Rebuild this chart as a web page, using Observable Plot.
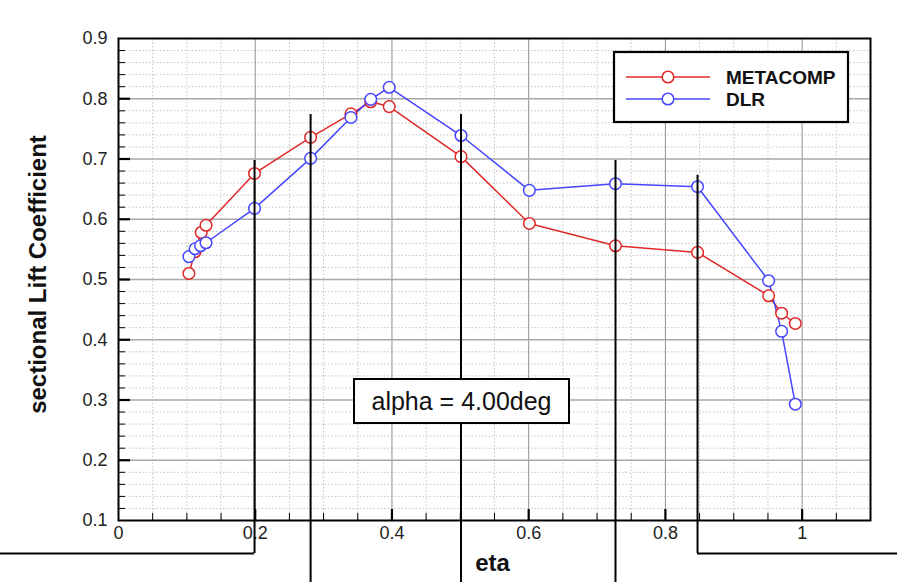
<!DOCTYPE html>
<html><head><meta charset="utf-8">
<script src="https://cdn.jsdelivr.net/npm/d3@7"></script>
<script src="https://cdn.jsdelivr.net/npm/@observablehq/plot@0.6"></script>
<style>body{margin:0;background:#fff}#chart svg{display:block}</style>
</head><body><div id="chart"></div>
<script>
// ---- data ----
const seriesNames = ["METACOMP", "DLR"];
const seriesColors = ["#e02828", "#4646ff"];
const etaMeta = [0.103, 0.112, 0.121, 0.128, 0.199, 0.281, 0.340, 0.369, 0.396, 0.501, 0.601, 0.727, 0.847, 0.951, 0.970, 0.990];
const clMeta  = [0.510, 0.546, 0.578, 0.590, 0.676, 0.736, 0.775, 0.795, 0.787, 0.704, 0.593, 0.556, 0.545, 0.473, 0.444, 0.427];
const etaDlr  = [0.103, 0.112, 0.120, 0.128, 0.199, 0.281, 0.340, 0.369, 0.396, 0.501, 0.601, 0.727, 0.847, 0.951, 0.970, 0.990];
const clDlr   = [0.538, 0.551, 0.556, 0.561, 0.618, 0.701, 0.769, 0.799, 0.819, 0.739, 0.648, 0.659, 0.654, 0.498, 0.414, 0.293];
const xTickLabels = [0, 0.2, 0.4, 0.6, 0.8, 1];
const yTickLabels = [0.1, 0.2, 0.3, 0.4, 0.5, 0.6, 0.7, 0.8, 0.9];
const annotation = "alpha = 4.00deg";
const xTitle = "eta";
const yTitle = "sectional Lift Coefficient";
// overlapping frame lines seen in the picture, at station positions
const stationEta = [0.199, 0.281, 0.501, 0.727, 0.847];
const stationTop = [0.6975, 0.774, 0.774, 0.6975, 0.673];
const stationBottom = [0.0452, -0.003, -0.003, -0.003, 0.0452];
const frameLineY = [0.0452, 0.0452];
const frameLineX1 = [-0.18, 0.847];
const frameLineX2 = [0.199, 1.16];

const rows = [];
etaMeta.forEach((e, i) => rows.push({series: seriesNames[0], eta: e, cl: clMeta[i]}));
etaDlr.forEach((e, i) => rows.push({series: seriesNames[1], eta: e, cl: clDlr[i]}));
const stations = stationEta.map((e, i) => ({eta: e, top: stationTop[i], bottom: stationBottom[i]}));
const hlines = frameLineY.map((y, i) => ({y, x1: frameLineX1[i], x2: frameLineX2[i]}));

const xMajorGrid = [0.2, 0.4, 0.6, 0.8, 1.0];
const xMinor = d3.range(1, 23).filter(i => i % 4 !== 0).map(i => i * 0.05);
const yMajorGrid = [0.2, 0.3, 0.4, 0.5, 0.6, 0.7, 0.8];
const yMinor = d3.range(6, 45).filter(i => i % 5 !== 0).map(i => i * 0.02);
const fmt = d => d === 0 ? "0" : d === 1 ? "1" : d3.format(".1f")(d);

const font = "'Liberation Sans', Arial, Helvetica, sans-serif";

const plot = Plot.plot({
  width: 897, height: 582,
  marginLeft: 118, marginRight: 27, marginTop: 38, marginBottom: 62,
  x: {domain: [0, 1.1], axis: null},
  y: {domain: [0.1, 0.9], axis: null},
  color: {domain: seriesNames, range: seriesColors},
  style: {fontFamily: font, background: "white", overflow: "visible"},
  marks: [
    // minor dotted grid
    Plot.ruleX(xMinor, {x: d => d, y1: 0.1, y2: 0.9, stroke: "#c4c4c4", strokeWidth: 1, strokeDasharray: "1.5,2"}),
    Plot.ruleY(yMinor, {y: d => d, x1: 0, x2: 1.1, stroke: "#c4c4c4", strokeWidth: 1, strokeDasharray: "1.5,2"}),
    // major grid
    Plot.ruleX(xMajorGrid, {x: d => d, y1: 0.1, y2: 0.9, stroke: "#909090", strokeWidth: 1}),
    Plot.ruleY(yMajorGrid, {y: d => d, x1: 0, x2: 1.1, stroke: "#a8a8a8", strokeWidth: 1.5}),
    // data
    Plot.line(rows, {x: "eta", y: "cl", z: "series", stroke: "series", strokeWidth: 1.5}),
    Plot.dot(rows, {x: "eta", y: "cl", stroke: "series", fill: "white", r: 5.8, strokeWidth: 1.5}),
    // frame & ticks
    Plot.frame({stroke: "black", strokeWidth: 2}),
    Plot.ruleX(xMajorGrid, {x: d => d, y1: 0.1, y2: 0.1 + 11 / 602.5, stroke: "black", strokeWidth: 2.2}),
    Plot.ruleX(xMinor, {x: d => d, y1: 0.1, y2: 0.1 + 7 / 602.5, stroke: "black", strokeWidth: 1}),
    Plot.ruleY(yMajorGrid, {y: d => d, x1: 0, x2: 12 / 683.6, stroke: "black", strokeWidth: 2.2}),
    Plot.ruleY(yMinor, {y: d => d, x1: 0, x2: 7 / 683.6, stroke: "black", strokeWidth: 1}),
    // tick labels
    Plot.text(xTickLabels, {x: d => d, frameAnchor: "bottom", lineAnchor: "middle", dy: 13, text: fmt, fontSize: 18, fill: "#222"}),
    Plot.text(yTickLabels, {y: d => d, frameAnchor: "left", lineAnchor: "middle", dx: -11, textAnchor: "end", text: fmt, fontSize: 18, fill: "#222"}),
    // axis titles
    Plot.text([xTitle], {frameAnchor: "bottom", lineAnchor: "middle", textAnchor: "middle", dy: 43, dx: -2, text: d => d, fontSize: 24, fontWeight: "bold", fill: "#111"}),
    Plot.text([yTitle], {frameAnchor: "left", lineAnchor: "middle", textAnchor: "middle", dx: -80, dy: -5, rotate: -90, text: d => d, fontSize: 24, fontWeight: "bold", fill: "#111"}),
    // overlapping frame lines
    Plot.ruleX(stations, {x: "eta", y1: "bottom", y2: "top", stroke: "black", strokeWidth: 2, ariaLabel: "frame-lines"}),
    Plot.ruleY(hlines, {y: "y", x1: "x1", x2: "x2", stroke: "black", strokeWidth: 2})
  ]
});

const svg = d3.select(plot);
// annotation box (under the frame lines)
const box = svg.insert("g", "g[aria-label='frame-lines']");
box.append("rect").attr("x", 354).attr("y", 379).attr("width", 215).attr("height", 44)
  .attr("fill", "white").attr("stroke", "black").attr("stroke-width", 2);
box.append("text").attr("x", 461.5).attr("y", 401).attr("text-anchor", "middle")
  .attr("dominant-baseline", "central").attr("font-family", font).attr("font-size", 25)
  .attr("fill", "#111").text(annotation);

// legend
const lg = svg.append("g");
lg.append("rect").attr("x", 614).attr("y", 52).attr("width", 234).attr("height", 70)
  .attr("fill", "white").attr("stroke", "black").attr("stroke-width", 2.2);
seriesNames.forEach((name, i) => {
  const y = 77 + i * 22;
  lg.append("line").attr("x1", 626).attr("x2", 710).attr("y1", y).attr("y2", y)
    .attr("stroke", seriesColors[i]).attr("stroke-width", 1.5);
  lg.append("circle").attr("cx", 668).attr("cy", y).attr("r", 5.8)
    .attr("fill", "white").attr("stroke", seriesColors[i]).attr("stroke-width", 1.5);
  lg.append("text").attr("x", 726).attr("y", y).attr("dominant-baseline", "central")
    .attr("text-anchor", "start")
    .attr("font-family", font).attr("font-size", 19).attr("font-weight", "bold")
    .attr("fill", "#111").text(name);
});

document.getElementById("chart").appendChild(plot);
</script>
</body></html>
